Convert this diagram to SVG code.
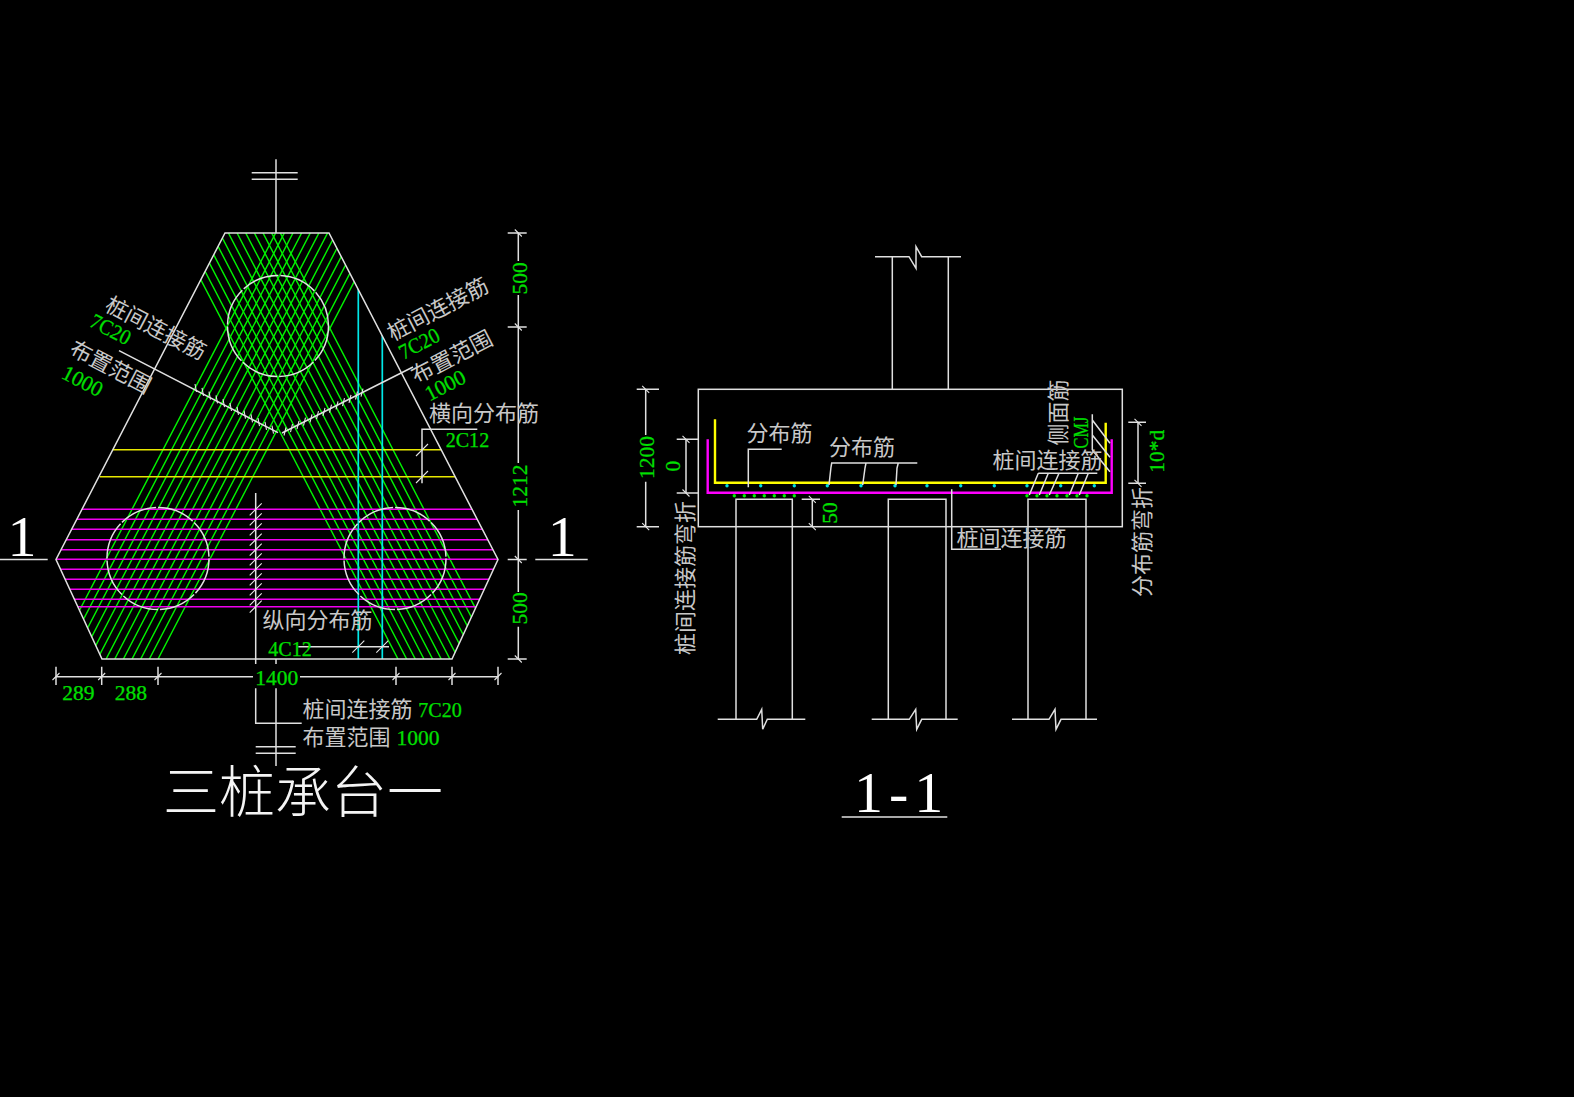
<svg xmlns="http://www.w3.org/2000/svg" width="1574" height="1097" viewBox="0 0 1574 1097">
<style>
.w{fill:none;stroke:#e0e0e0;stroke-width:1.5}
.t{fill:none;stroke:#e4e4e4;stroke-width:1.1}
.g{fill:none;stroke:#00f000;stroke-width:1.45}
.m{fill:none;stroke:#f000f0;stroke-width:1.5}
.y{fill:none;stroke:#e8e800;stroke-width:1.5}
.c{fill:none;stroke:#00e8e8;stroke-width:1.7}
.cn{font-family:"Noto Sans CJK SC","Noto Sans CJK JP",sans-serif;font-size:22px;fill:#c8c8c8}
.nu{font-family:"Liberation Serif",serif;font-size:21.5px;fill:#00e000;stroke:#00e000;stroke-width:.25}
.big{font-family:"Liberation Serif",serif;font-size:58px;fill:#fff}
.ti{font-family:"Noto Sans CJK SC","Noto Sans CJK JP",sans-serif;font-size:56px;font-weight:300;fill:#f4f4f4}
.mid{text-anchor:middle}
</style>
<defs>
<clipPath id="hex"><polygon points="225,233 329,233 498,559.5 452,659 102,659 56,559.5"/></clipPath>
</defs>
<rect width="1574" height="1097" fill="#000"/>
<g id="plan-rebar" clip-path="url(#hex)">
<path class="g" d="M176.5 233L398 659M185.15 233L406.65 659M193.8 233L415.3 659M202.45 233L423.95 659M211.1 233L432.6 659M219.75 233L441.25 659M228.4 233L449.9 659M237.05 233L458.55 659M245.7 233L467.2 659M254.35 233L475.85 659M263 233L484.5 659M271.65 233L493.15 659M280.3 233L501.8 659"/>
<path class="g" d="M379.5 233L158 659M370.85 233L149.35 659M362.2 233L140.7 659M353.55 233L132.05 659M344.9 233L123.4 659M336.25 233L114.75 659M327.6 233L106.1 659M318.95 233L97.45 659M310.3 233L88.8 659M301.65 233L80.15 659M293 233L71.5 659M284.35 233L62.85 659M275.7 233L54.2 659"/>
<path class="y" d="M100 449.7H460M100 476.7H460"/>
<path class="m" d="M50 509.3H505M50 519.3H505M50 529.3H505M50 539.7H505M50 549.7H505M50 559.3H505M50 569.3H505M50 579.3H505M50 589.3H505M50 599.3H505M50 606.7H505"/>
<path class="c" d="M358.3 250V659M382.3 250V659"/>
</g>
<g id="plan-outline">
<polygon class="w" points="225,233 329,233 498,559.5 452,659 102,659 56,559.5"/>
<circle class="w" cx="278" cy="326" r="50.5" stroke-dasharray="38 2"/>
<circle class="w" cx="158" cy="558.5" r="51" stroke-dasharray="38 2"/>
<circle class="w" cx="395" cy="558.5" r="51" stroke-dasharray="38 2"/>
</g>
<g id="plan-connectors">
<path class="w" d="M276 159.3V233M251.7 172.7H297.7M251.7 179.3H297.7"/>
<path class="w" d="M276 659V664M276 688.3V766M255.7 746.7H295.7M255.7 753.3H295.7"/>
<path class="w" d="M0 559.5H47.7M535.3 559.5H587.7"/>
<path class="w" d="M119 350.7L278 432.7M282 433L413 367"/>
<path class="t" d="M195 384l1.5 8M202 387.8l1.5 8M209 391.6l1.5 8M216 395.4l1.5 8M223 399.2l1.5 8M230 403l1.5 8M237 406.8l1.5 8M244 410.6l1.5 8M251 414.4l1.5 8M258 418.1l1.5 8M265 421.9l1.5 8M272 425.7l1.5 8"/>
<path class="t" d="M286 427.5l-2 8M292.5 424.2l-2 8M299 421l-2 8M305.5 417.7l-2 8M312 414.4l-2 8M318.5 411.2l-2 8M325 407.9l-2 8M331.5 404.6l-2 8M338 401.3l-2 8M344.5 398.1l-2 8M351 394.8l-2 8M357.5 391.5l-2 8M363 388.7l-2 8"/>
<path class="w" d="M477.3 429.3H422V483.3"/>
<path class="t" d="M416 456L428 444M416 483L428 471"/>
<path class="w" d="M255.7 493V664M255.7 688.3V723.3H301.7"/>
<path class="t" d="M249.7 515.3L261.7 503.3M249.7 525.3L261.7 513.3M249.7 535.3L261.7 523.3M249.7 545.7L261.7 533.7M249.7 555.7L261.7 543.7M249.7 565.3L261.7 553.3M249.7 575.3L261.7 563.3M249.7 585.3L261.7 573.3M249.7 595.3L261.7 583.3M249.7 605.3L261.7 593.3M249.7 612.7L261.7 600.7"/>
<path class="w" d="M298.3 646.7H389"/>
<path class="t" d="M352.3 652.7L364.3 640.7M376.3 652.7L388.3 640.7"/>
<path class="w" d="M56 676.7H253M300 676.7H498M56 666.7V685M101.7 666.7V685M158 666.7V685M396 666.7V685M452 666.7V685M498 666.7V685"/>
<path class="t" d="M52.5 680L59.5 673M98.2 680L105.2 673M154.5 680L161.5 673M392.5 680L399.5 673M448.5 680L455.5 673M494.5 680L501.5 673"/>
<path class="w" d="M518.3 233V261M518.3 295V463M518.3 510V592M518.3 626.7V659M507.7 233H526.7M507.7 327H526.7M507.7 559.5H526.7M507.7 659H526.7"/>
<path class="t" d="M514.8 229.5L521.8 236.5M514.8 323.5L521.8 330.5M514.8 556L521.8 563M514.8 655.5L521.8 662.5"/>
</g>
<g id="plan-labels">
<text class="cn mid" transform="translate(156 328) rotate(27.5)" y="8">桩间连接筋</text>
<text class="nu mid" transform="translate(110.7 329) rotate(27.5)" y="7.5" textLength="43" lengthAdjust="spacingAndGlyphs">7C20</text>
<text class="cn mid" transform="translate(110.7 366.7) rotate(27.5)" y="8">布置范围</text>
<text class="nu mid" transform="translate(82.7 380.7) rotate(27.5)" y="7.5">1000</text>
<text class="cn mid" transform="translate(437.7 309) rotate(-27.5)" y="8">桩间连接筋</text>
<text class="nu mid" transform="translate(419 343.3) rotate(-27.5)" y="7.5" textLength="43" lengthAdjust="spacingAndGlyphs">7C20</text>
<text class="cn mid" transform="translate(451.7 356.7) rotate(-27.5)" y="8">布置范围</text>
<text class="nu mid" transform="translate(445 385) rotate(-27.5)" y="7.5">1000</text>
<text class="cn" x="429" y="421">横向分布筋</text>
<text class="nu" x="445.7" y="447" textLength="43.5" lengthAdjust="spacingAndGlyphs">2C12</text>
<text class="cn" x="262.5" y="628">纵向分布筋</text>
<text class="nu" x="268.3" y="655.5" textLength="43.5" lengthAdjust="spacingAndGlyphs">4C12</text>
<text class="cn" x="302.5" y="717">桩间连接筋</text>
<text class="nu" x="418.3" y="716.7" textLength="43.5" lengthAdjust="spacingAndGlyphs">7C20</text>
<text class="cn" x="302.5" y="745">布置范围</text>
<text class="nu" x="396.5" y="745">1000</text>
<text class="nu mid" x="78.3" y="700">289</text>
<text class="nu mid" x="130.8" y="700">288</text>
<text class="nu mid" x="276.7" y="684.5">1400</text>
<text class="nu mid" transform="translate(526.5 278.3) rotate(-90)">500</text>
<text class="nu mid" transform="translate(526.5 486) rotate(-90)">1212</text>
<text class="nu mid" transform="translate(526.5 608.3) rotate(-90)">500</text>
<text class="big mid" x="22" y="556">1</text>
<text class="big mid" x="562.3" y="556">1</text>
<text class="ti" x="163" y="812">三桩承台一</text>
</g>
<g id="section-outline">
<rect class="w" x="698.3" y="389.3" width="424" height="137.4"/>
<path class="w" d="M892.3 389.3V256.7M948.3 389.3V256.7M875 256.7H909L916 268.3V246.7L921.7 256.7H961"/>
</g>
<g id="pile-1"><path class="w" d="M736 719.3V499.3H792.3V719.3M717.7 719.3H756.7L761.7 709.3L762.7 729.3L767.3 719.3H805.3"/></g>
<g id="pile-2"><path class="w" d="M888.3 719.3V499.3H946V719.3M871.7 719.3H909.3L915.7 709.3L916.7 729.3L921.7 719.3H957.7"/></g>
<g id="pile-3"><path class="w" d="M1028 719.3V499.3H1086V719.3M1012 719.3H1049L1055 709.3L1056 729.3L1061 719.3H1097"/></g>
<g id="section-rebar">
<path fill="none" stroke="#ff00ff" stroke-width="2.4" d="M707.7 439.3V492.7H1111.7V439.3"/>
<path fill="none" stroke="#ffff00" stroke-width="2.4" d="M715 419.3V482.7H1105.7V422.7"/>
<g fill="#00e0e0"><circle cx="727" cy="485.7" r="1.7"/><circle cx="760.7" cy="485.7" r="1.7"/><circle cx="794.3" cy="485.7" r="1.7"/><circle cx="827.3" cy="485.7" r="1.7"/><circle cx="861" cy="485.7" r="1.7"/><circle cx="895" cy="485.7" r="1.7"/><circle cx="927" cy="485.7" r="1.7"/><circle cx="960.7" cy="485.7" r="1.7"/><circle cx="994.3" cy="485.7" r="1.7"/><circle cx="1027" cy="485.7" r="1.7"/><circle cx="1060.7" cy="485.7" r="1.7"/><circle cx="1094.3" cy="485.7" r="1.7"/></g>
<g fill="#00f000"><circle cx="734.3" cy="495.7" r="1.7"/><circle cx="744.3" cy="495.7" r="1.7"/><circle cx="754.3" cy="495.7" r="1.7"/><circle cx="764.3" cy="495.7" r="1.7"/><circle cx="774.3" cy="495.7" r="1.7"/><circle cx="784.3" cy="495.7" r="1.7"/><circle cx="794.3" cy="495.7" r="1.7"/><circle cx="1027" cy="495.7" r="1.7"/><circle cx="1037" cy="495.7" r="1.7"/><circle cx="1047" cy="495.7" r="1.7"/><circle cx="1057" cy="495.7" r="1.7"/><circle cx="1067" cy="495.7" r="1.7"/><circle cx="1077" cy="495.7" r="1.7"/><circle cx="1087" cy="495.7" r="1.7"/></g>
</g>
<g id="section-connectors">
<path class="w" d="M645.7 389.3V435M645.7 481.7V526.7M636.7 389.3H659M636.7 526.7H659"/>
<path class="w" d="M686 439.3V493M676.7 439.3H698.3M676.7 493H698.3"/>
<path class="w" d="M812.3 499.3V526.7M801.7 499.3H820"/>
<path class="w" d="M1138 422.3V483.3M1128.3 422.3H1146M1128.3 483.3H1146"/>
<path class="t" d="M642.2 385.8L649.2 392.8M642.2 523.2L649.2 530.2M682.5 435.8L689.5 442.8M682.5 489.5L689.5 496.5M808.8 495.8L815.8 502.8M808.8 523.2L815.8 530.2M1134.5 418.8L1141.5 425.8M1134.5 479.8L1141.5 486.8"/>
<path class="w" d="M748.3 487.3V449.3H781.7"/>
<path class="w" d="M917.3 463H831.7L831 467L829 485M866 463L865 468L862.7 485M898.3 463L897 468L896 485"/>
<path class="w" d="M1038.3 473.3H1097.3M1038.3 473.3L1029.3 495M1048.3 473.3L1039.3 495M1059 473.3L1049.3 495M1078.3 473.3L1069.3 495M1088.3 473.3L1079.3 495"/>
<path class="w" d="M951.7 489.3V549.3H1001"/>
<path class="w" d="M1092.3 414.3V450M1092.3 420L1110 443.3M1092.3 435L1110 457.3M1092.3 450L1110 471.7"/>
<path class="w" d="M841.7 817H947.3"/>
</g>
<g id="section-labels">
<text class="cn" x="746.5" y="441">分布筋</text>
<text class="cn" x="829" y="455">分布筋</text>
<text class="cn" x="992.5" y="468">桩间连接筋</text>
<text class="cn" x="956.5" y="546">桩间连接筋</text>
<text class="cn mid" transform="translate(1066 412.5) rotate(-90)">侧面筋</text>
<text class="cn mid" transform="translate(1150 542) rotate(-90)">分布筋弯折</text>
<text class="cn mid" transform="translate(693 578) rotate(-90)">桩间连接筋弯折</text>
<text class="nu mid" transform="translate(1088 432.5) rotate(-90)" textLength="32" lengthAdjust="spacingAndGlyphs">CMJ</text>
<text class="nu mid" transform="translate(1164 451.3) rotate(-90)" textLength="42.7" lengthAdjust="spacingAndGlyphs">10*d</text>
<text class="nu mid" transform="translate(654.3 457.5) rotate(-90)">1200</text>
<text class="nu mid" transform="translate(680 466) rotate(-90)">0</text>
<text class="nu mid" transform="translate(836.7 513) rotate(-90)">50</text>
<text class="big" x="854" y="812" letter-spacing="6">1-1</text>
</g>
</svg>
